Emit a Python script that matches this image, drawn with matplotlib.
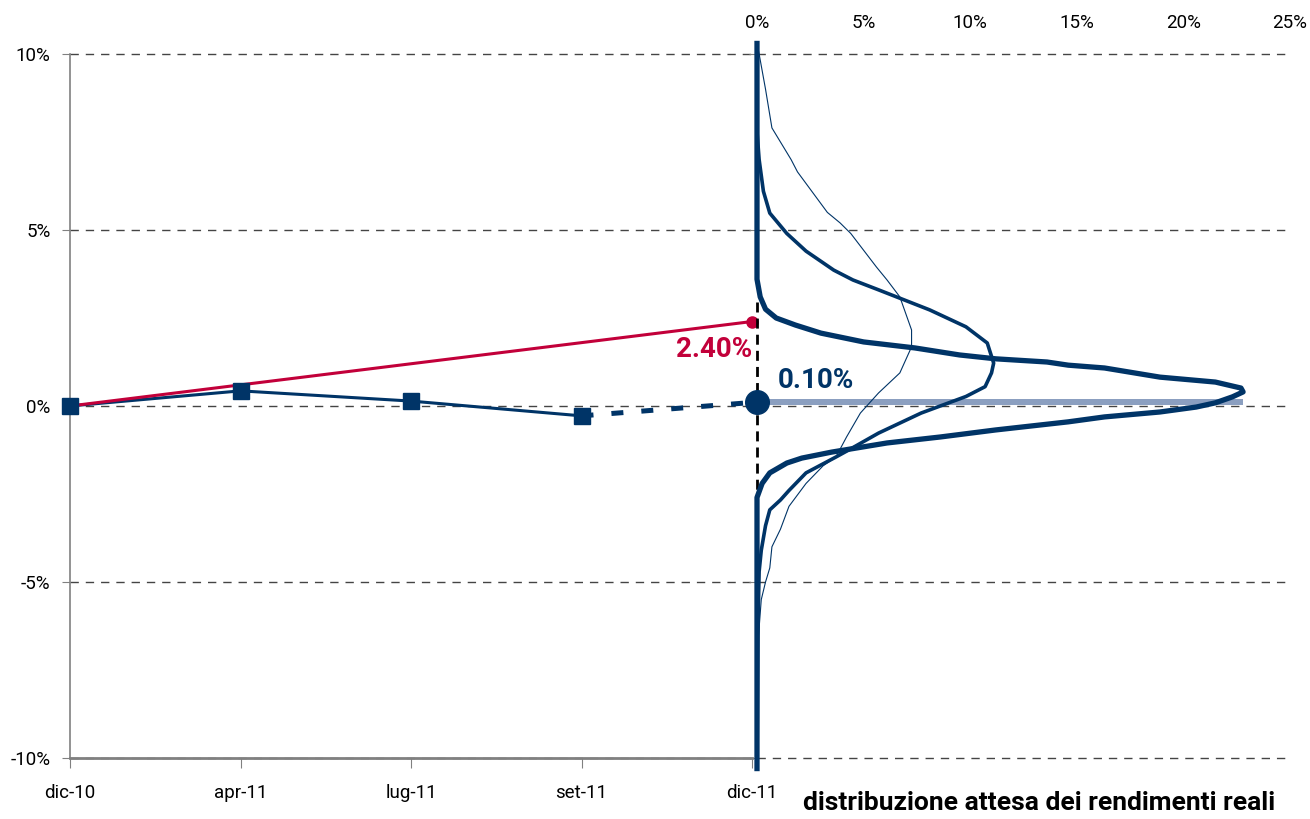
import matplotlib.pyplot as plt

plt.rcParams['font.family'] = ['Roboto', 'DejaVu Sans']

# series on the left panel (real returns, %)
months = ['dic-10', 'apr-11', 'lug-11', 'set-11', 'dic-11']
realised = [0.0, 0.43, 0.14, -0.28]
expected = 0.10
target = [0.0, 2.40]

# expected distributions of real returns: return level (%) -> frequency (%)
thin_y = [10.3, 10.0, 9.0, 7.9, 7.0, 6.65, 5.5, 5.2, 4.9, 3.95, 3.58, 3.1, 2.16, 1.68, 0.94,
          0.37, -0.2, -0.88, -1.45, -1.7, -2.2, -2.85, -3.5, -4.0, -4.6, -5.0, -5.5, -6.3, -7.0, -10.3]
thin_x = [0.0, 0.1, 0.4, 0.7, 1.6, 1.9, 3.3, 3.9, 4.4, 5.6, 6.1, 6.7, 7.25, 7.25, 6.7,
          5.7, 4.85, 4.2, 3.7, 3.1, 2.3, 1.5, 1.1, 0.7, 0.6, 0.4, 0.2, 0.1, 0.0, 0.0]

mid_y = [10.3, 7.8, 7.0, 6.1, 5.48, 4.9, 4.4, 3.86, 3.58, 3.3, 2.73, 2.25, 1.79, 1.22, 0.94,
         0.55, 0.27, -0.2, -0.77, -1.25, -1.45, -1.9, -2.4, -2.67, -2.95, -3.4, -4.1, -4.7, -6.1, -10.3]
mid_x = [0.0, 0.0, 0.1, 0.3, 0.6, 1.4, 2.3, 3.6, 4.5, 5.7, 8.1, 9.8, 10.8, 11.1, 11.0,
         10.7, 9.8, 7.7, 5.7, 4.3, 3.7, 2.3, 1.5, 1.1, 0.6, 0.4, 0.2, 0.1, 0.05, 0.0]

thick_y = [10.3, 3.6, 3.1, 2.75, 2.5, 2.3, 2.07, 1.82, 1.65, 1.45, 1.34, 1.25, 1.16, 1.08, 0.82, 0.68,
           0.51, 0.4, 0.26, 0.09, -0.03, -0.17, -0.31, -0.45, -0.68, -0.88, -1.05, -1.31, -1.48,
           -1.62, -1.9, -2.2, -2.6, -10.3]
thick_x = [0.0, 0.0, 0.15, 0.4, 0.9, 1.8, 3.0, 5.0, 7.4, 9.5, 11.2, 13.6, 14.6, 16.3, 18.9, 21.5,
           22.7, 22.8, 22.3, 21.5, 20.6, 18.9, 16.3, 14.6, 11.2, 8.6, 6.1, 3.5, 2.1,
           1.4, 0.6, 0.24, 0.0, 0.0]
peak_freq = 22.8

navy = '#003467'
red = '#c2003a'
grey = '#808080'
grid_kw = dict(color='#444444', linewidth=1, linestyle=(0, (6, 5)))

W, H = 1310, 819
fig = plt.figure(figsize=(W / 100, H / 100), dpi=100)
bottom, top = 1 - 758 / H, 1 - 54 / H
ax = fig.add_axes([70 / W, bottom, (752 - 70) / W, top - bottom])
ax2 = fig.add_axes([757 / W, bottom, (1290 - 757) / W, top - bottom])

# left panel: realised path and target
ax.plot(range(4), realised, color=navy, lw=2.2, zorder=2, clip_on=False)
ax.plot([0, 4], target, color=red, lw=2.2, zorder=3, clip_on=False)
ax.plot(4, target[-1], 'o', color=red, ms=8, zorder=5, clip_on=False)
ax.plot(range(4), realised, 's', color=navy, ms=11, zorder=4, clip_on=False)
ax.plot([3, 4], [realised[-1], expected], color=navy, lw=3.6,
        linestyle=(0, (2.4, 3.6)), dash_capstyle='butt', zorder=2, clip_on=False)
ax.annotate(f'{target[-1]:.2f}%', xy=(4, target[-1]), xytext=(0, -20),
            textcoords='offset points', ha='right', va='center',
            color=red, fontsize=20, fontweight='bold')

ax.set_xlim(0, 4)
ax.set_ylim(-10, 10)
ax.set_xticks(range(5))
ax.set_xticklabels(months)
ax.set_yticks([-10, -5, 0, 5, 10])
ax.set_yticklabels([f'{v}%' for v in [-10, -5, 0, 5, 10]])
ax.tick_params(axis='x', length=7, color=grey, pad=12, labelsize=13.5)
ax.tick_params(axis='y', length=6, color=grey, pad=8, labelsize=13.5)
ax.grid(axis='y', **grid_kw)
ax.set_axisbelow(True)
for s in ['top', 'right']:
    ax.spines[s].set_visible(False)
ax.spines['left'].set_color(grey)
ax.spines['left'].set_linewidth(1.2)
ax.spines['bottom'].set_color(grey)
ax.spines['bottom'].set_linewidth(2)

# right panel: distributions
ax2.barh(expected, peak_freq, height=0.17, left=0, color='#8b9fc0', zorder=1.5)
ax2.plot([0, 0], [2.95, -10], color='black', lw=2, linestyle=(0, (3.6, 2.2)), zorder=2, clip_on=False)
ax2.plot(thin_x, thin_y, color=navy, lw=0.8, zorder=3, clip_on=False)
ax2.plot(mid_x, mid_y, color=navy, lw=2.6, zorder=3, clip_on=False, solid_joinstyle='round')
ax2.plot(thick_x, thick_y, color=navy, lw=3.8, zorder=3, clip_on=False, solid_joinstyle='round')
ax2.plot(0, expected, 'o', color=navy, ms=17, zorder=6, clip_on=False)
ax2.annotate(f'{expected:.2f}%', xy=(0, expected), xytext=(15, 16),
             textcoords='offset points', ha='left', va='center',
             color=navy, fontsize=20, fontweight='bold')

ax2.set_xlim(0, 25)
ax2.set_ylim(-10, 10)
ax2.xaxis.tick_top()
ax2.set_xticks(range(0, 30, 5))
ax2.set_xticklabels([f'{v}%' for v in range(0, 30, 5)])
ax2.tick_params(axis='x', length=0, pad=16, labelsize=13.5)
ax2.set_yticks([-10, -5, 0, 5, 10])
ax2.tick_params(axis='y', length=6, color=grey, labelleft=False)
ax2.grid(axis='y', **grid_kw)
ax2.set_axisbelow(True)
for s in ax2.spines.values():
    s.set_visible(False)
ax2.patch.set_visible(False)

# keep the edge gridlines (10% and -10%) fully visible
for a in (ax, ax2):
    for gl in a.get_ygridlines():
        gl.set_clip_on(False)

fig.text(1275 / W, 1 - 803 / H, 'distribuzione attesa dei rendimenti reali',
         ha='right', va='center', fontsize=19, fontweight='bold')

fig.savefig('out.png', dpi=100)
